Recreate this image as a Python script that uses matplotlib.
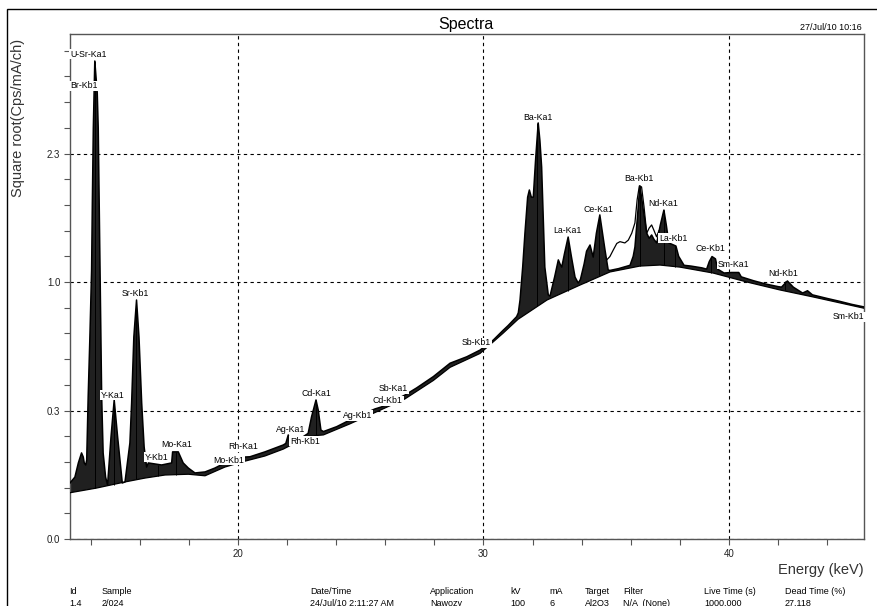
import numpy as np
import matplotlib.pyplot as plt
from matplotlib.patches import Rectangle
from matplotlib.ticker import MultipleLocator

plt.rcParams['font.family'] = ['Liberation Sans', 'DejaVu Sans']

# spectrum (upper edge of the filled area), energy in keV, value = sqrt(Cps/mA/ch)
energy = [13.16, 13.36, 13.50, 13.63, 13.70, 13.74, 13.80, 13.84, 13.90, 13.97,
          14.04, 14.07, 14.11, 14.17, 14.27, 14.31, 14.35, 14.45, 14.51, 14.61,
          14.69, 14.83, 14.96, 15.10, 15.29, 15.40, 15.60, 15.67, 15.76, 15.87,
          15.97, 16.08, 16.18, 16.28, 16.35, 16.89, 17.30, 17.34, 17.57, 17.77,
          17.98, 18.25, 18.66, 19.06, 19.47, 19.88, 20.29, 20.49, 21.10, 21.85,
          21.95, 22.05, 22.12, 22.30, 22.86, 23.00, 23.18, 23.27, 23.38, 23.48,
          24.02, 24.56, 25.58, 25.85, 26.80, 27.28, 27.96, 28.64, 29.32, 29.86,
          30.40, 30.80, 31.00, 31.35, 31.42, 31.49, 31.60, 31.69, 31.80, 31.87,
          31.95, 32.03, 32.12, 32.23, 32.30, 32.37, 32.50, 32.64, 32.71, 32.90,
          33.05, 33.12, 33.19, 33.30, 33.45, 33.58, 33.73, 33.86, 33.95, 34.10,
          34.20, 34.34, 34.47, 34.60, 34.74, 34.85, 34.95, 35.08, 35.15, 35.50,
          35.97, 36.10, 36.17, 36.27, 36.37, 36.44, 36.51, 36.65, 36.75, 36.85,
          36.95, 37.06, 37.20, 37.35, 37.45, 37.55, 37.84, 37.95, 38.17, 38.45,
          38.90, 39.09, 39.20, 39.31, 39.45, 39.54, 39.80, 40.10, 40.40, 40.50,
          41.00, 41.50, 42.00, 42.14, 42.38, 42.62, 43.00, 43.20, 43.40, 44.00,
          44.50, 45.00, 45.50]
spectrum = [0.218, 0.241, 0.296, 0.335, 0.319, 0.296, 0.288, 0.307, 0.553, 0.786,
            1.047, 1.307, 1.599, 1.860, 1.735, 1.599, 1.307, 0.553, 0.335, 0.241,
            0.210, 0.397, 0.541, 0.397, 0.218, 0.222, 0.374, 0.529, 0.786, 0.930,
            0.786, 0.529, 0.358, 0.280, 0.296, 0.288, 0.296, 0.339, 0.339, 0.296,
            0.276, 0.257, 0.261, 0.276, 0.296, 0.300, 0.319, 0.320, 0.339, 0.366,
            0.372, 0.405, 0.365, 0.375, 0.411, 0.476, 0.541, 0.502, 0.424, 0.418,
            0.437, 0.463, 0.506, 0.514, 0.560, 0.588, 0.632, 0.684, 0.709, 0.735,
            0.774, 0.812, 0.830, 0.865, 0.880, 0.930, 1.060, 1.190, 1.330, 1.358,
            1.330, 1.330, 1.470, 1.619, 1.550, 1.447, 1.058, 0.950, 0.945, 1.020,
            1.086, 1.070, 1.058, 1.110, 1.175, 1.100, 1.019, 0.996, 1.010, 1.070,
            1.120, 1.144, 1.097, 1.190, 1.261, 1.190, 1.125, 1.047, 1.045, 1.052,
            1.065, 1.100, 1.136, 1.250, 1.374, 1.330, 1.280, 1.190, 1.170, 1.183,
            1.165, 1.152, 1.220, 1.280, 1.220, 1.152, 1.140, 1.100, 1.065, 1.062,
            1.055, 1.050, 1.080, 1.099, 1.090, 1.050, 1.035, 1.037, 1.037, 1.020,
            1.005, 0.992, 0.982, 0.980, 1.004, 0.980, 0.957, 0.966, 0.950, 0.936,
            0.925, 0.913, 0.903]

# continuum / background (lower edge of the filled area)
bg_energy = [13.16, 14.23, 15.40, 16.21, 17.03, 17.98, 18.66, 19.47, 20.29, 21.10,
             21.85, 22.86, 23.48, 24.56, 25.58, 26.80, 27.96, 28.64, 29.86, 30.79,
             31.41, 32.59, 33.93, 35.15, 36.37, 37.19, 38.00, 39.35, 40.73, 42.08,
             43.42, 45.50]
bg_level = [0.180, 0.198, 0.222, 0.237, 0.249, 0.252, 0.246, 0.280, 0.303, 0.323,
            0.350, 0.400, 0.405, 0.448, 0.492, 0.545, 0.617, 0.668, 0.722, 0.800,
            0.855, 0.930, 0.988, 1.039, 1.062, 1.066, 1.058, 1.035, 1.000, 0.969,
            0.942, 0.898]

# measured curve drawn above the fit between Ce-Ka1 and Nd-Ka1
overlay_energy = [35.02, 35.15, 35.29, 35.43, 35.56, 35.76, 35.90, 36.04, 36.17, 36.26,
                  36.35, 36.44, 36.54, 36.65, 36.75, 36.85, 36.94, 37.05, 37.15]
overlay_level = [1.086, 1.099, 1.125, 1.150, 1.157, 1.152, 1.163, 1.190, 1.230, 1.320,
                 1.374, 1.370, 1.293, 1.190, 1.210, 1.222, 1.202, 1.176, 1.200]

# peak marker lines
marker_energy = [14.17, 14.96, 15.84, 16.74, 17.48, 23.17, 32.19, 33.44, 34.72, 36.38,
                 37.36, 37.80, 39.26, 42.27]
marker_base = [0.198, 0.210, 0.232, 0.246, 0.250, 0.405, 0.905, 0.966, 1.026, 1.062,
               1.066, 1.060, 1.036, 0.970]
marker_top = [1.860, 0.541, 0.930, 0.288, 0.339, 0.541, 1.619, 1.175, 1.261, 1.374,
              1.280, 1.140, 1.099, 1.004]

# line labels: text, energy of left edge, sqrt level of centre
line_names = ['U-Sr-Ka1', 'Br-Kb1', 'Sr-Kb1', 'Y-Ka1', 'Y-Kb1', 'Mo-Ka1', 'Mo-Kb1',
              'Rh-Ka1', 'Ag-Ka1', 'Rh-Kb1', 'Cd-Ka1', 'Ag-Kb1', 'Cd-Kb1', 'Sb-Ka1',
              'Sb-Kb1', 'Ba-Ka1', 'La-Ka1', 'Ce-Ka1', 'Ba-Kb1', 'Nd-Ka1', 'La-Kb1',
              'Ce-Kb1', 'Sm-Ka1', 'Nd-Kb1', 'Sm-Kb1']
label_x = [13.16, 13.16, 15.27, 14.42, 16.21, 16.86, 18.98, 19.59, 21.55, 22.12,
           22.57, 24.28, 25.50, 25.74, 29.12, 31.61, 32.83, 34.09, 35.72, 36.70,
           37.15, 38.62, 39.55, 41.59, 44.24]
label_y = [1.887, 1.763, 0.957, 0.560, 0.319, 0.366, 0.307, 0.358, 0.428, 0.381,
           0.568, 0.482, 0.537, 0.584, 0.763, 1.642, 1.202, 1.284, 1.401, 1.304,
           1.171, 1.132, 1.070, 1.035, 0.864]

# y grid lines sit at sqrt positions, labelled with the squared value
ytick_pos = [0.0, 0.5, 1.0, 1.5]
ytick_labels = ['0.0', '0.3', '1.0', '2.3']
xtick_pos = [20, 30, 40]

footer_heads = ['Id', 'Sample', 'Date/Time', 'Application', 'kV', 'mA', 'Target',
                'Filter', 'Live Time (s)', 'Dead Time (%)']
footer_values = ['1.4', '2/024', '24/Jul/10 2:11:27 AM', 'Nawozy', '100', '6', 'Al2O3',
                 'N/A  (None)', '1000.000', '27.118']
footer_x = [69, 102, 310, 430, 510, 549, 585, 623, 704, 785]

W, H = 877, 606
fig = plt.figure(figsize=(W / 100, H / 100), dpi=100)
ax = fig.add_axes([70 / W, 1 - 539 / H, (864 - 70) / W, (539 - 34) / H])

# outer frame
fig.add_artist(Rectangle((7 / W, -0.02), 1.1, 1 - 9 / H + 0.02, transform=fig.transFigure,
                         fill=False, edgecolor='black', linewidth=1.0))

# filled peaks between spectrum and background
poly_x = np.concatenate([energy, bg_energy[::-1]])
poly_y = np.concatenate([spectrum, bg_level[::-1]])
ax.fill(poly_x, poly_y, color='#202020', linewidth=0, zorder=2)
ax.plot(energy, spectrum, color='black', linewidth=1.1, zorder=3)
ax.plot(bg_energy, bg_level, color='black', linewidth=0.9, zorder=3)
ax.plot(overlay_energy, overlay_level, color='black', linewidth=0.9, zorder=3)
ax.vlines(marker_energy, marker_base, marker_top, color='black', linewidth=0.7, zorder=3)

for name, lx, ly in zip(line_names, label_x, label_y):
    ax.text(lx, ly, name, fontsize=6.3, ha='left', va='center', zorder=5,
            bbox=dict(facecolor='white', edgecolor='none', pad=0.6))

ax.set_xlim(13.16, 45.5)
ax.set_ylim(0, 1.965)
ax.set_xticks(xtick_pos)
ax.set_xticklabels([str(t) for t in xtick_pos])
ax.xaxis.set_minor_locator(MultipleLocator(2))
ax.set_yticks(ytick_pos)
ax.set_yticklabels(ytick_labels)
ax.yaxis.set_minor_locator(MultipleLocator(0.1))
ax.tick_params(which='both', direction='out', length=4, width=0.8, color='#555555',
               labelsize=7, labelcolor='#222222', pad=3)
ax.grid(which='major', linestyle=(0, (3, 3)), color='black', linewidth=0.8, zorder=1)
ax.set_axisbelow(True)
for sp in ax.spines.values():
    sp.set_color('#555555')
    sp.set_linewidth(1.0)

fig.text(466 / W, 1 - 24 / H, 'Spectra', fontsize=11.5, ha='center', va='center')
fig.text(862 / W, 1 - 28 / H, '27/Jul/10 10:16', fontsize=6.5, ha='right', va='center')
fig.text(18 / W, 1 - 118 / H, 'Square root(Cps/mA/ch)', fontsize=10.5, rotation=90,
         ha='center', va='center', color='#333333')
fig.text(864 / W, 1 - 570 / H, 'Energy (keV)', fontsize=10.5, ha='right', va='center',
         color='#333333')

for head, val, fx in zip(footer_heads, footer_values, footer_x):
    fig.text(fx / W, 1 - 591 / H, head, fontsize=6.5, ha='left', va='center')
    fig.text(fx / W, 1 - 603 / H, val, fontsize=6.5, ha='left', va='center')

fig.savefig('out.png', dpi=100)
